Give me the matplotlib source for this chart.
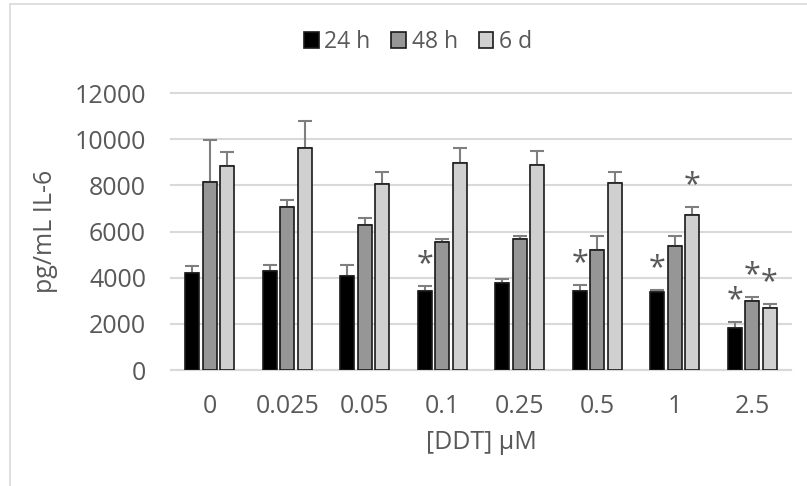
import numpy as np
import matplotlib.pyplot as plt
from matplotlib.patches import Rectangle

# IL-6 por concentracion de DDT
doses = ['0', '0.025', '0.05', '0.1', '0.25', '0.5', '1', '2.5']
series = ['24 h', '48 h', '6 d']

h24 = [4215, 4300, 4085, 3410, 3755, 3425, 3380, 1830]
h24_err = [275, 250, 460, 245, 175, 260, 100, 260]
h48 = [8130, 7065, 6270, 5540, 5655, 5180, 5365, 2980]
h48_err = [1840, 300, 330, 130, 145, 605, 420, 170]
d6 = [8835, 9625, 8055, 8950, 8875, 8085, 6720, 2690]
d6_err = [615, 1150, 505, 660, 620, 475, 345, 185]

# asteriscos de significancia
sig24 = [False, False, False, True, False, True, True, True]
sig48 = [False, False, False, False, False, False, False, True]
sig6d = [False, False, False, False, False, False, True, True]

plt.rcParams['font.family'] = ['Open Sans', 'DejaVu Sans']
txt = '#595959'
fs = 18

fig = plt.figure(figsize=(8.07, 4.86), dpi=100)
fig.patches.append(Rectangle((10 / 807, -0.1), 1.2, 1 - 4 / 486 + 0.1, transform=fig.transFigure,
                             fill=False, edgecolor='#d9d9d9', lw=1.2))
ax = fig.add_axes([171 / 807, 1 - 370 / 486, 620 / 807, 277 / 486])

x = np.arange(len(doses))
w = 0.18
step = 0.223
colors = ['#000000', '#969696', '#d0d0d0']
vals = [h24, h48, d6]
errs = [h24_err, h48_err, d6_err]
sigs = [sig24, sig48, sig6d]

for i in range(3):
    pos = x + (i - 1) * step
    ax.bar(pos, vals[i], width=w, color=colors[i], edgecolor='#1a1a1a', lw=1.2,
           label=series[i], zorder=3)
    ax.errorbar(pos, vals[i], yerr=[np.zeros(len(doses)), errs[i]], fmt='none',
                ecolor='#7f7f7f', elinewidth=1.5, capsize=5, capthick=1.5, zorder=2)
    for j in range(len(doses)):
        if sigs[i][j]:
            ax.text(pos[j], vals[i][j] + errs[i][j] + 950, '*', ha='center', va='center',
                    fontsize=22, color=txt)

ax.set_xlim(-0.5, 7.5)
ax.set_ylim(0, 12000)
ax.set_yticks(range(0, 12001, 2000))
ax.set_xticks(x)
ax.set_xticklabels(doses)
ax.grid(axis='y', color='#d9d9d9', lw=1.5, zorder=0, clip_on=False)
for s in ['top', 'right', 'left']:
    ax.spines[s].set_visible(False)
ax.spines['bottom'].set_color('#d9d9d9')
ax.spines['bottom'].set_linewidth(1.5)
ax.tick_params(axis='both', length=0, labelsize=fs, labelcolor=txt)
ax.tick_params(axis='y', pad=18)
ax.tick_params(axis='x', pad=17)

ax.set_ylabel('pg/mL IL-6', fontsize=fs, color=txt, labelpad=12)
ax.set_xlabel('[DDT] µM', fontsize=fs, color=txt, labelpad=8)

fig.legend(loc='center', bbox_to_anchor=(418 / 807, 1 - 42 / 486), ncol=3, frameon=False,
           fontsize=16.5, labelcolor=txt, handlelength=0.65, handleheight=0.65,
           handletextpad=0.25, columnspacing=0.9)

fig.savefig('out.png', dpi=100)
